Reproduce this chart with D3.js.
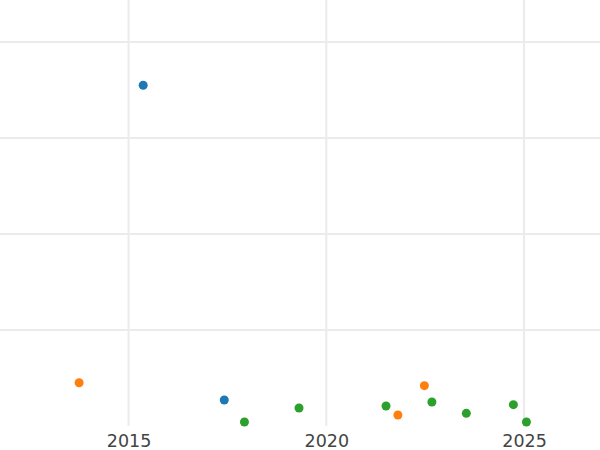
<!DOCTYPE html>
<html>
<head>
<meta charset="utf-8">
<script src="https://cdn.jsdelivr.net/npm/d3@7"></script>
<style>
html, body { margin: 0; padding: 0; background: #fff; }
svg { display: block; }
</style>
</head>
<body>
<svg id="chart" width="600" height="450"></svg>
<script>
// Data
const seriesNames = ["Series A", "Series B", "Series C"];
const seriesColors = ["#1f77b4", "#ff7f0e", "#2ca02c"];
const seriesAYears = [2015.37, 2017.42];
const seriesAValues = [35.49, 2.71];
const seriesBYears = [2013.75, 2021.81, 2022.48];
const seriesBValues = [4.51, 1.15, 4.20];
const seriesCYears = [2017.93, 2019.31, 2021.51, 2022.67, 2023.54, 2024.73, 2025.06];
const seriesCValues = [0.42, 1.88, 2.08, 2.50, 1.32, 2.22, 0.42];
const xTicks = [2015, 2020, 2025];
const yTicks = [10, 20, 30, 40];
const xDomain = [2011.75, 2026.92];
const yDomain = [0, 44.375];

const W = 600, H = 450;
const plotBottom = 426;
const svg = d3.select("#chart");

const x = d3.scaleLinear().domain(xDomain).range([0, W]);
const y = d3.scaleLinear().domain(yDomain).range([plotBottom, 0]);

// Horizontal gridlines
svg.append("g")
  .selectAll("line")
  .data(yTicks)
  .join("line")
  .attr("x1", 0).attr("x2", W)
  .attr("y1", d => y(d)).attr("y2", d => y(d))
  .attr("stroke", "#ebebeb")
  .attr("stroke-width", 2);

// Vertical gridlines
svg.append("g")
  .selectAll("line")
  .data(xTicks)
  .join("line")
  .attr("x1", d => x(d)).attr("x2", d => x(d))
  .attr("y1", 0).attr("y2", plotBottom)
  .attr("stroke", "#ebebeb")
  .attr("stroke-width", 2);

// X axis labels
const xAxis = d3.axisBottom(x).tickValues(xTicks).tickFormat(d3.format("d")).tickSize(0).tickPadding(0);
const gx = svg.append("g").attr("transform", `translate(0,${plotBottom})`).call(xAxis);
gx.select(".domain").remove();
gx.selectAll("text")
  .attr("y", 21)
  .attr("dy", null)
  .attr("fill", "#444")
  .style("font-family", "'DejaVu Sans', sans-serif")
  .style("font-size", "17.5px");

// Points
const series = [
  { name: seriesNames[0], color: seriesColors[0], xs: seriesAYears, ys: seriesAValues },
  { name: seriesNames[1], color: seriesColors[1], xs: seriesBYears, ys: seriesBValues },
  { name: seriesNames[2], color: seriesColors[2], xs: seriesCYears, ys: seriesCValues }
];

series.forEach(s => {
  const pts = s.xs.map((xv, i) => ({ x: xv, y: s.ys[i] }));
  svg.append("g")
    .selectAll("circle")
    .data(pts)
    .join("circle")
    .attr("cx", d => x(d.x))
    .attr("cy", d => y(d.y))
    .attr("r", 4.5)
    .attr("fill", s.color);
});
</script>
</body>
</html>
